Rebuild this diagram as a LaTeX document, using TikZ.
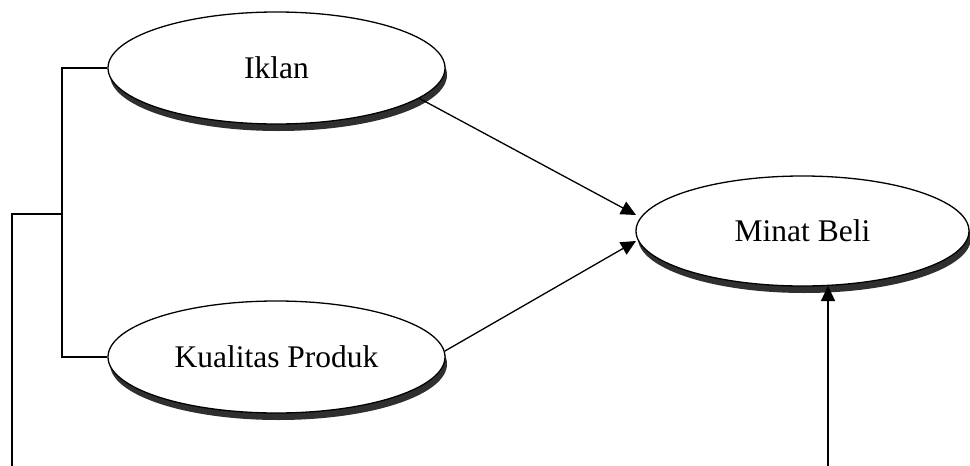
\documentclass[tikz,border=0pt]{standalone}
\usepackage{fontspec}
\setmainfont{Liberation Serif}
\usetikzlibrary{shapes.geometric,arrows.meta,shadows}
\definecolor{shade}{HTML}{2F2F2F}
\tikzset{
  oval/.style={ellipse, draw=black, line width=1.3pt, fill=white, inner sep=0pt,
    font=\fontsize{31.5}{36}\selectfont,
    drop shadow={shadow xshift=2pt, shadow yshift=-7pt, fill=shade, opacity=1}},
  conn/.style={line width=1.3pt, draw=black},
  arr/.style={conn, -{Triangle[length=15pt,width=14pt]}}
}
\begin{document}
\begin{tikzpicture}[x=1pt,y=-1pt]
\useasboundingbox (0,0) rectangle (970,466);
\node[oval, minimum width=337pt, minimum height=112pt] (iklan) at (276.5,68) {Iklan};
\node[oval, minimum width=337pt, minimum height=112pt] (kual) at (276.5,357) {Kualitas Produk};
\node[oval, minimum width=333pt, minimum height=110pt] (minat) at (802.5,231) {Minat Beli};
\coordinate (bl) at (62,214);
\coordinate (b1) at (12,470);
\coordinate (b2) at (828,470);
\coordinate (t1) at (636,215);
\coordinate (t2) at (636,241);
\draw[conn] (iklan.west) -| (bl) |- (kual.west);
\draw[conn] (bl) -- (bl -| b1) -- (b1);
\draw[arr] (iklan.-12) -- (t1);
\draw[arr] (kual.2) -- (t2);
\draw[arr] (b2) -- ++(0,-184);
\end{tikzpicture}
\end{document}
